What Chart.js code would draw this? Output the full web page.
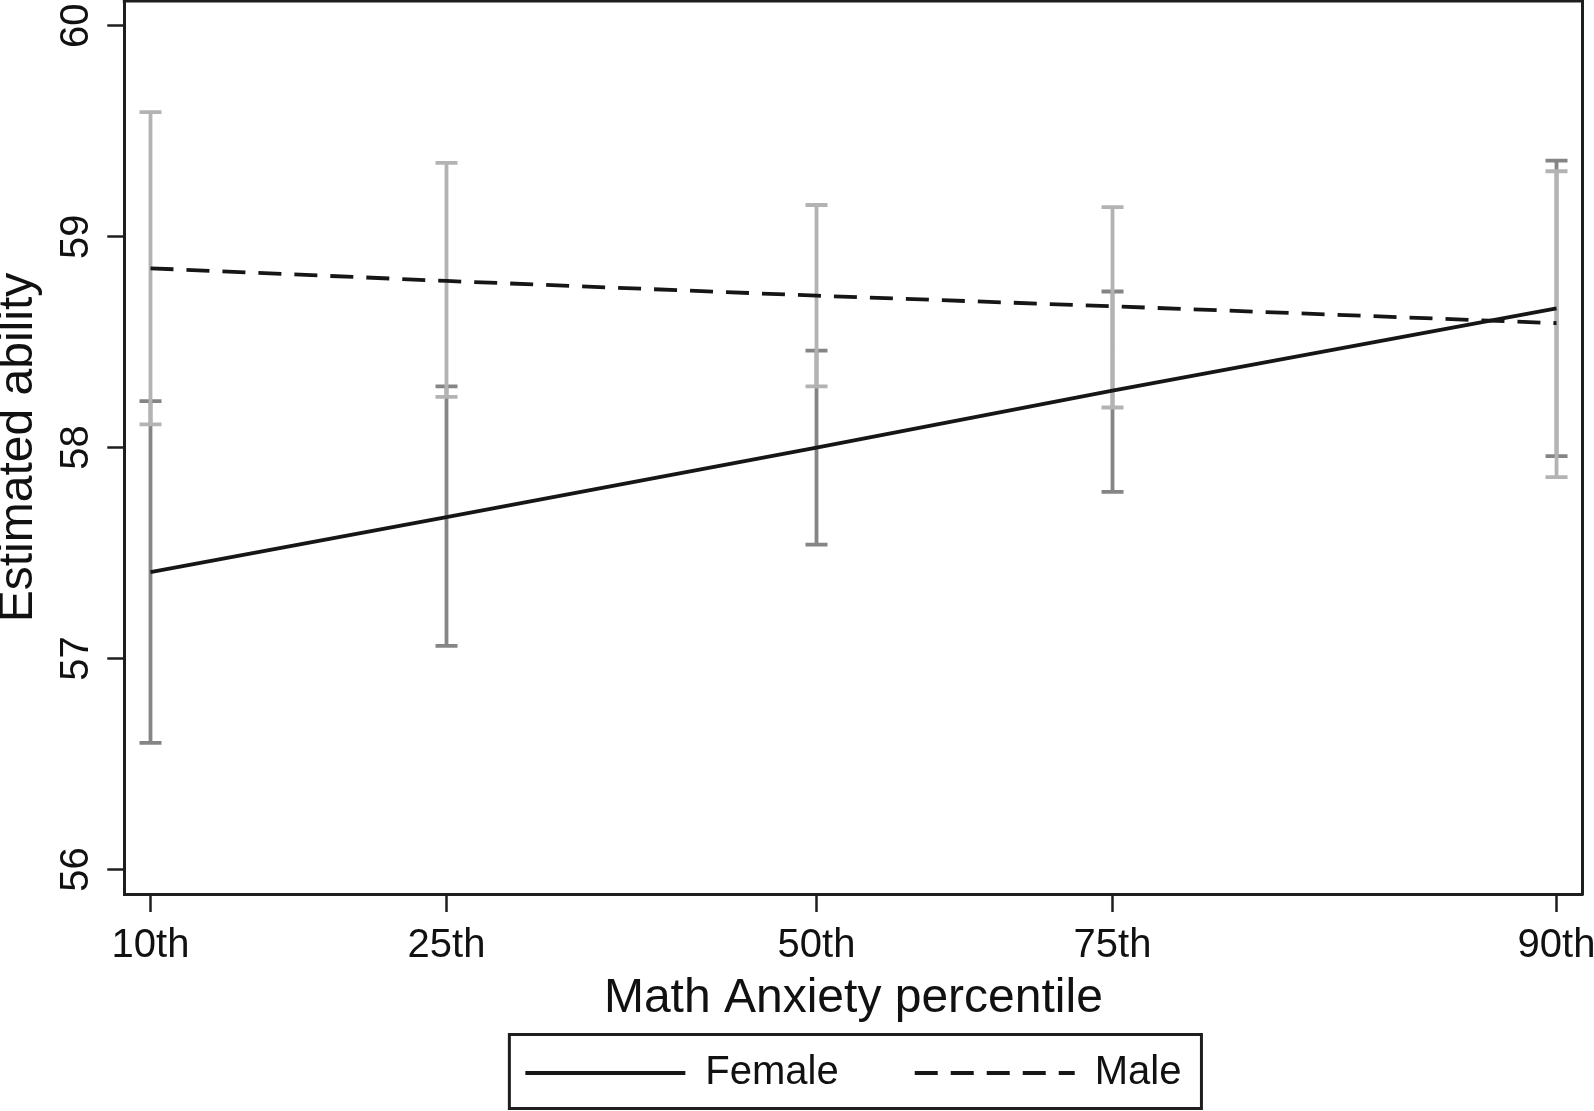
<!DOCTYPE html>
<html>
<head>
<meta charset="utf-8">
<title>Estimated ability by math anxiety</title>
<script src="https://cdn.jsdelivr.net/npm/chart.js@4.4.1/dist/chart.umd.min.js"></script>
<style>
  html, body { margin: 0; padding: 0; background: #fff; }
  #wrap { width: 1594px; height: 1111px; }
  canvas { display: block; }
</style>
</head>
<body>
<div id="wrap"><canvas id="chart" width="1594" height="1111"></canvas></div>
<script>
// anxiety score at each percentile (positions the ticks on a linear axis)
const xScores = [12, 16, 21, 25, 31];
const xLabels = ['10th', '25th', '50th', '75th', '90th'];
const yTicks = [56, 57, 58, 59, 60];

const femaleEst = [57.41, 57.67, 58.00, 58.27, 58.66];
const femaleLo  = [56.60, 57.06, 57.54, 57.79, 57.96];
const femaleHi  = [58.22, 58.29, 58.46, 58.74, 59.36];

const maleEst = [58.85, 58.79, 58.72, 58.67, 58.59];
const maleLo  = [58.11, 58.24, 58.29, 58.19, 57.86];
const maleHi  = [59.59, 59.35, 59.15, 59.14, 59.31];

const FONT = "'Liberation Sans', Arial, Helvetica, sans-serif";
const INK = '#161616';
const AXIS = '#1e1e1e';
const LINE_W = 3.8;

const pts = (est) => xScores.map((x, i) => ({ x: x, y: est[i] }));

// vertical segments lo..hi, split by nulls
const ciPts = (lo, hi) => {
    const out = [];
    xScores.forEach((x, i) => {
        out.push({ x: x, y: lo[i] }, { x: x, y: hi[i] }, { x: x, y: null });
    });
    return out;
};

const ciStyle = (color) => ({
    type: 'line',
    borderColor: color,
    borderWidth: 3.8,
    pointStyle: 'line',
    pointRadius: 11,
    pointHoverRadius: 11,
    pointBorderWidth: 3.8,
    pointBorderColor: color,
    spanGaps: false,
    tension: 0,
    fill: false
});

const framePlugin = {
    id: 'frame',
    afterDraw(chart) {
        const { ctx, chartArea: a } = chart;
        ctx.save();
        ctx.strokeStyle = AXIS;
        ctx.lineWidth = 3;
        ctx.beginPath();
        ctx.moveTo(a.left - 1.5, a.top);
        ctx.lineTo(a.right, a.top);
        ctx.lineTo(a.right, a.bottom + 1.5);
        ctx.stroke();

        // box round the legend
        const hb = chart.legend && chart.legend.legendHitBoxes;
        if (hb && hb.length) {
            const first = hb[0], last = hb[hb.length - 1];
            const cy = first.top + first.height / 2;
            const left = first.left - 16;
            const right = last.left + last.width + 20;
            ctx.lineWidth = 3;
            ctx.strokeRect(left, cy - 38.5, right - left, 74);
        }
        ctx.restore();
    }
};

new Chart(document.getElementById('chart'), {
    type: 'line',
    data: {
        datasets: [
            {
                label: 'Female',
                data: pts(femaleEst),
                borderColor: INK,
                borderWidth: LINE_W,
                pointRadius: 0,
                pointHoverRadius: 0,
                pointStyle: 'line',
                tension: 0,
                fill: false,
                order: 0
            },
            {
                label: 'Male',
                data: pts(maleEst),
                borderColor: INK,
                borderWidth: LINE_W,
                borderDash: [23, 13],
                pointRadius: 0,
                pointHoverRadius: 0,
                pointStyle: 'line',
                tension: 0,
                fill: false,
                order: 1
            },
            Object.assign({ label: 'Male CI', data: ciPts(maleLo, maleHi), order: 2 }, ciStyle('#b3b3b3')),
            Object.assign({ label: 'Female CI', data: ciPts(femaleLo, femaleHi), order: 3 }, ciStyle('#858585'))
        ]
    },
    options: {
        responsive: false,
        devicePixelRatio: 1,
        animation: false,
        events: [],
        layout: { autoPadding: false, padding: { left: 0, right: 11.5, top: 1, bottom: 8 } },
        plugins: {
            tooltip: { enabled: false },
            legend: {
                position: 'bottom',
                fullSize: false,
                labels: {
                    usePointStyle: true,
                    pointStyleWidth: 160,
                    padding: 76,
                    color: '#111',
                    font: { family: FONT, size: 40 },
                    generateLabels: (chart) => {
                        const items = Chart.defaults.plugins.legend.labels.generateLabels(chart);
                        return items.filter(it => it.datasetIndex < 2).map(it => {
                            const ds = chart.data.datasets[it.datasetIndex];
                            it.lineDash = ds.borderDash || [];
                            it.lineWidth = ds.borderWidth;
                            it.strokeStyle = ds.borderColor;
                            return it;
                        });
                    }
                }
            }
        },
        scales: {
            x: {
                type: 'linear',
                min: 11.646,
                max: 31.351,
                afterBuildTicks: (scale) => { scale.ticks = xScores.map(v => ({ value: v })); },
                afterFit: (scale) => {
                    scale.height = 83;
                    scale.paddingLeft = 0;
                    scale.paddingRight = 0;
                },
                ticks: {
                    autoSkip: false,
                    maxRotation: 0,
                    padding: 10,
                    color: '#111',
                    font: { family: FONT, size: 40 },
                    callback: (value, index) => xLabels[index]
                },
                grid: {
                    display: true,
                    drawOnChartArea: false,
                    drawTicks: true,
                    tickLength: 18,
                    tickWidth: 2.5,
                    tickColor: AXIS
                },
                border: { display: true, color: AXIS, width: 3 },
                title: {
                    display: true,
                    text: 'Math Anxiety percentile',
                    color: '#111',
                    font: { family: FONT, size: 48, lineHeight: 1 },
                    padding: { top: 0, bottom: -46 }
                }
            },
            y: {
                type: 'linear',
                min: 55.884,
                max: 60.117,
                afterBuildTicks: (scale) => { scale.ticks = yTicks.map(v => ({ value: v })); },
                afterFit: (scale) => {
                    scale.width = 124.3;
                    scale.paddingTop = 0;
                    scale.paddingBottom = 0;
                },
                ticks: {
                    minRotation: 90,
                    maxRotation: 90,
                    crossAlign: 'center',
                    padding: 8,
                    color: '#111',
                    font: { family: FONT, size: 40 },
                    callback: (value) => String(value)
                },
                grid: {
                    display: true,
                    drawOnChartArea: false,
                    drawTicks: true,
                    tickLength: 17,
                    tickWidth: 2.5,
                    tickColor: AXIS
                },
                border: { display: true, color: AXIS, width: 3 },
                title: {
                    display: true,
                    text: 'Estimated ability',
                    color: '#111',
                    font: { family: FONT, size: 48, lineHeight: 1 },
                    padding: { top: -5, bottom: 0 }
                }
            }
        }
    },
    plugins: [framePlugin]
});
</script>
</body>
</html>
